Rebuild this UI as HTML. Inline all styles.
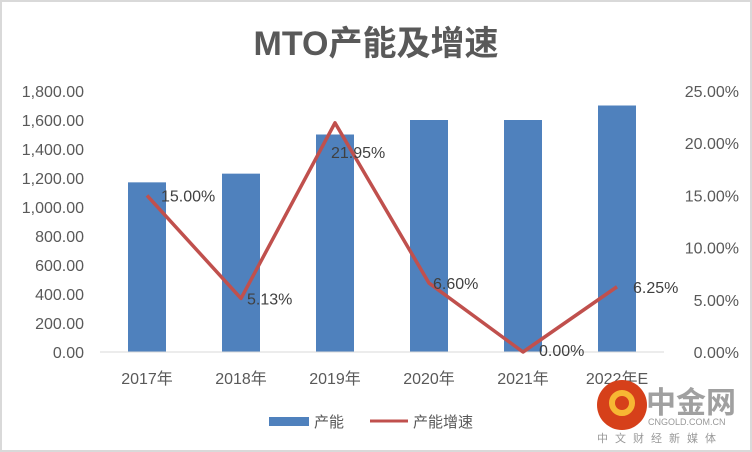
<!DOCTYPE html>
<html><head><meta charset="utf-8"><style>
body{margin:0;background:#fff}
svg{display:block;font-family:"Liberation Sans","Noto Sans CJK SC",sans-serif}
</style></head><body>
<svg id="c" width="752" height="452">
<rect x="1" y="1" width="750" height="450" fill="#fff" stroke="#d9d9d9" stroke-width="2"/>
<text x="376" y="55" text-anchor="middle" font-size="34" font-weight="bold" fill="#595959">MTO产能及增速</text>
<g id="plot"></g>
<g>
<rect x="269" y="417" width="40" height="9" fill="#4F81BD"/>
<text x="314" y="427" font-size="15" fill="#595959">产能</text>
<line x1="370" y1="421" x2="408" y2="421" stroke="#C0504D" stroke-width="3"/>
<text x="413" y="427" font-size="15" fill="#595959">产能增速</text>
</g>
<g>
<circle cx="622" cy="405" r="25" fill="#d6401a"/>
<circle cx="622" cy="403" r="10" fill="none" stroke="#f7b733" stroke-width="6"/>
<text x="646" y="413" font-size="30" font-weight="bold" fill="#a0a0a0">中金网</text>
<text x="648" y="425" font-size="9" fill="#999">CNGOLD.COM.CN</text>
<text x="597" y="442" font-size="11" fill="#999" letter-spacing="7">中文财经新媒体</text>
</g>
</svg>
<script>
const categories=["2017年","2018年","2019年","2020年","2021年","2022年E"];
const capacity=[1170,1230,1500,1600,1600,1700];
const growth=[15.00,5.13,21.95,6.60,0.00,6.25];
const leftTicks=[0,200,400,600,800,1000,1200,1400,1600,1800];
const rightTicks=[0,5,10,15,20,25];
const NS="http://www.w3.org/2000/svg";
const g=document.getElementById('plot');
const X0=100,X1=664,Y0=352,Y1=91;
const bw=(X1-X0)/categories.length;
const yL=v=>Y0-(v/1800)*(Y0-Y1);
const yR=v=>Y0-(v/25)*(Y0-Y1);
const xC=i=>X0+bw*(i+0.5);
const lblDx=[14,6,-4,4,16,16];
const lblDy=[6,6,35,6,4,6];
function mk(t,a,txt){const e=document.createElementNS(NS,t);for(const k in a)e.setAttribute(k,a[k]);if(txt!==undefined)e.textContent=txt;g.appendChild(e);return e;}
leftTicks.forEach(v=>{const e=mk('text',{x:84,y:yL(v)+6,'text-anchor':'end','font-size':16,fill:'#595959'},v.toLocaleString('en-US',{minimumFractionDigits:2}));

});
rightTicks.forEach(v=>{const e=mk('text',{x:739,y:yR(v)+6,'text-anchor':'end','font-size':16,fill:'#595959'},v.toFixed(2)+'%');

});
capacity.forEach((v,i)=>{const e=mk('rect',{x:xC(i)-19,y:yL(v),width:38,height:Y0-yL(v),fill:'#4F81BD'});

});
const ax=mk('line',{x1:X0,y1:Y0,x2:X1,y2:Y0,stroke:'#d9d9d9','stroke-width':1});


categories.forEach((c,i)=>{const e=mk('text',{x:xC(i),y:384,'text-anchor':'middle','font-size':16,fill:'#595959'},c);

});
const pl=mk('polyline',{points:growth.map((v,i)=>xC(i)+','+yR(v)).join(' '),fill:'none',stroke:'#C0504D','stroke-width':3.5,'stroke-linejoin':'round'});


growth.forEach((v,i)=>{const e=mk('text',{x:xC(i)+lblDx[i],y:yR(v)+lblDy[i],'font-size':16,fill:'#404040'},v.toFixed(2)+'%');

});
</script>
</body></html>
